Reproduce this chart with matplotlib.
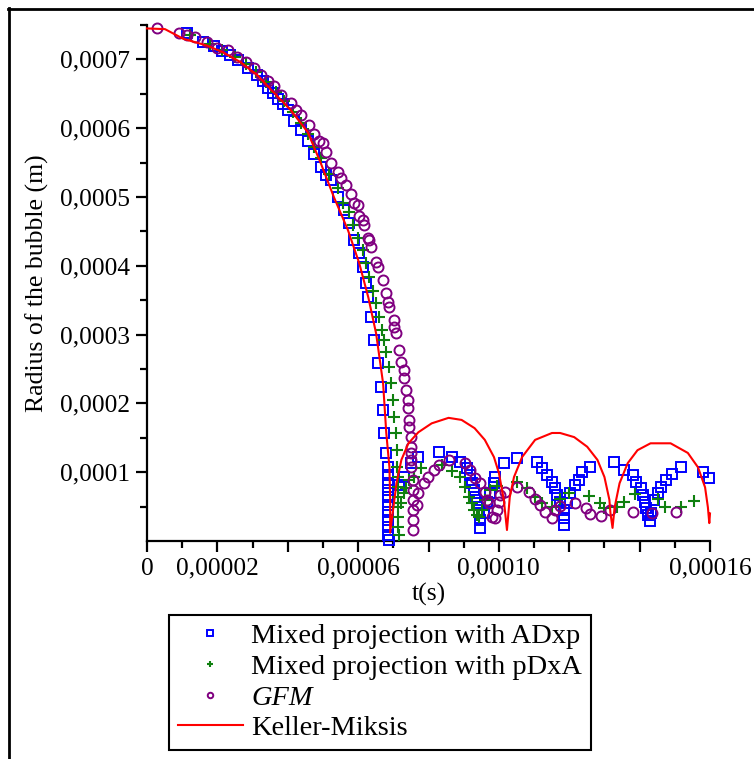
import matplotlib
matplotlib.use("Agg")
import matplotlib.pyplot as plt
from matplotlib.lines import Line2D
from matplotlib.ticker import MultipleLocator, FixedLocator
import numpy as np

plt.rcParams['font.family'] = ['Liberation Serif', 'DejaVu Serif']
plt.rcParams['mathtext.fontset'] = 'stix'

# ---- data (t in microseconds, R in micrometres) ----
km_t = [0, 5.1, 10.3, 17.1, 21.7, 26.6, 31.4, 36.0, 40.9, 45.7, 49.4, 53.1, 57.1, 60.3, 62.9,
        65.1, 67.1, 68.0, 68.9, 69.1, 69.1, 70.9, 72.3, 74.3, 77.1, 80.9, 85.7, 89.4, 93.1,
        96.0, 98.6, 100.0, 100.9, 101.4, 102.3, 103.1, 104.3, 106.6, 110.3, 115.1, 117.4,
        121.4, 125.1, 128.0, 130.0, 131.4, 131.7, 132.3, 132.9, 134.3, 136.6, 139.4, 143.1,
        148.8, 153.7, 156.6, 158.6, 159.4, 159.8, 160.0]
km_R = [745, 744, 730, 720, 710, 696, 677, 652, 626, 594, 549, 500, 452, 404, 354,
        302, 229, 157, 107, 60, 12, 84, 118, 142, 158, 171, 179, 176, 164,
        147, 122, 99, 74, 60, 16, 64, 93, 122, 147, 157, 157,
        151, 137, 118, 93, 60, 41, 19, 49, 84, 113, 132, 142,
        142, 128, 107, 78, 49, 26, 40]

adxp_t = [11.4, 16.0, 18.9, 21.4, 23.7, 26.0, 28.6, 31.4, 32.9, 34.3, 35.7, 37.1, 38.6, 40.0,
          41.7, 43.7, 45.7, 47.4, 49.4, 50.9, 52.3, 54.3, 56.0, 57.4, 58.9, 60.3, 61.4, 62.3,
          62.9, 63.7, 64.6, 65.7, 66.6, 67.1, 67.4, 68.0, 68.6, 68.6, 68.6, 68.6, 68.6, 68.6,
          68.6, 68.6, 68.6, 68.6, 68.9,
          71.7, 73.1, 75.1, 77.1, 82.9, 86.6, 88.9, 90.9, 91.7, 92.3, 92.9, 93.1, 93.7, 94.3,
          94.6, 94.6, 95.7, 96.6, 97.4, 98.6, 98.9, 101.4, 105.1, 110.9, 112.3, 113.7, 115.1,
          116.0, 116.6, 117.4, 118.6, 118.6, 118.6, 119.4, 120.3, 121.7, 122.9, 123.7, 126.0,
          132.6, 135.7, 138.0, 138.9, 140.3, 140.9, 141.4, 141.7, 142.3, 142.9, 143.1, 144.0,
          145.1, 146.0, 147.4, 149.1, 151.7, 158.0, 159.7]
adxp_R = [739, 725, 719, 712, 706, 699, 688, 677, 669, 658, 651, 643, 635, 626,
          611, 597, 582, 563, 543, 532, 524, 500, 481, 462, 437, 418, 398, 375,
          354, 325, 292, 258, 224, 190, 157, 128, 107, 96, 84, 74, 64, 52,
          42, 30, 20, 9, 2,
          81, 93, 113, 122, 129, 122, 115, 106, 96, 84, 74, 64, 55, 45,
          30, 19, 41, 57, 70, 84, 93, 113, 121, 115, 106, 96, 86,
          77, 67, 57, 45, 33, 23, 55, 70, 81, 89, 100, 107,
          115, 103, 96, 86, 77, 67, 57, 48, 38, 29, 41, 60,
          70, 78, 89, 97, 107, 100, 91]

pdxa_t = [12.3, 18.0, 21.4, 25.1, 28.0, 30.9, 33.7, 36.6, 38.9, 41.4, 43.7, 45.7, 47.4, 49.4,
          51.7, 54.3, 55.7, 57.4, 58.6, 60.0, 61.4, 62.3, 63.1, 64.3, 65.1, 66.0, 66.9, 67.4,
          68.0, 68.9, 69.4, 70.0, 70.3, 70.9, 71.1, 71.1, 71.4, 71.4, 71.4, 71.4, 71.4, 71.4,
          71.7,
          72.3, 72.9, 73.7, 74.6, 76.0, 78.0, 83.7, 86.6, 88.9, 90.3, 91.4, 92.3, 92.9, 93.7,
          94.3, 95.1, 96.0, 97.4, 99.4, 105.1, 108.0, 110.3, 112.3, 115.1, 117.4, 120.0, 125.7,
          128.6, 130.0, 133.7, 135.7, 138.6, 145.1, 147.1, 151.7, 155.4]
pdxa_R = [735, 723, 713, 703, 693, 681, 667, 652, 640, 623, 608, 592, 572, 556,
          534, 513, 492, 478, 459, 441, 423, 404, 383, 364, 346, 325, 306, 292,
          274, 253, 229, 205, 180, 157, 132, 107, 93, 78, 64, 49, 35, 20,
          9,
          55, 70, 77, 89, 93, 106, 110, 102, 93, 78, 64, 55, 45, 38,
          35, 45, 60, 74, 80, 86, 77, 64, 55, 49, 61, 70, 65,
          55, 48, 49, 57, 68, 61, 49, 49, 58]

gfm_t = [2.9, 9.1, 11.4, 13.7, 17.1, 20.0, 22.9, 25.7, 28.0, 30.3, 32.3, 34.3, 36.0, 38.0,
         40.9, 42.3, 43.7, 46.0, 47.4, 48.9, 50.0, 50.9, 52.3, 54.3, 55.1, 56.6, 58.0, 58.9,
         60.0, 60.3, 61.4, 61.7, 62.9, 63.1, 63.7, 65.1, 65.7, 67.1, 68.0, 68.6, 68.9, 70.3,
         70.3, 70.9, 71.7, 72.3, 72.9, 73.1, 73.7, 74.3, 74.3, 74.6, 74.6, 74.9, 75.1, 75.1,
         75.1, 75.1, 75.7, 75.7, 75.7, 75.7, 75.7, 75.7,
         76.6, 77.1, 78.6, 80.0, 81.7, 83.1, 85.7, 90.3, 91.7, 93.1, 94.6, 96.0, 96.6, 97.1,
         98.0, 98.9, 99.4, 100.0, 100.3, 101.7, 105.1, 108.6, 110.3, 111.7, 113.1, 115.1,
         116.0, 117.4, 121.7, 124.9, 126.0, 129.1, 131.7, 138.0, 143.4, 150.3]
gfm_R = [745, 739, 736, 733, 725, 717, 713, 703, 696, 687, 677, 669, 662, 648,
         636, 626, 619, 604, 592, 582, 578, 565, 550, 536, 527, 517, 505, 491,
         488, 473, 466, 459, 441, 437, 427, 405, 398, 379, 360, 347, 340, 321,
         311, 302, 277, 260, 248, 237, 219, 205, 193, 176, 166, 151, 137, 128,
         118, 107, 89, 74, 60, 45, 30, 16,
         52, 70, 84, 93, 103, 110, 118, 113, 103, 91, 84, 71, 60, 55,
         35, 33, 45, 57, 67, 71, 78, 71, 61, 52, 42, 33,
         45, 51, 55, 48, 39, 36, 45, 42, 41, 42]

labels = ["Mixed projection with ADxp", "Mixed projection with pDxA", "GFM", "Keller-Miksis"]
xtick_vals = [0, 2e-5, 4e-5, 6e-5, 8e-5, 10e-5, 12e-5, 14e-5, 16e-5]
xtick_labels = ["0", "0,00002", "", "0,00006", "", "0,00010", "", "", "0,00016"]
ytick_vals = [1e-4, 2e-4, 3e-4, 4e-4, 5e-4, 6e-4, 7e-4]
ytick_labels = ["0,0001", "0,0002", "0,0003", "0,0004", "0,0005", "0,0006", "0,0007"]

us, um = 1e-6, 1e-6
fig = plt.figure(figsize=(7.54, 7.59), dpi=100)
ax = fig.add_axes([147/754, 1 - 541/759, (710 - 147)/754, (541 - 25)/759])

ax.plot(np.array(adxp_t)*us, np.array(adxp_R)*um, ls='none', marker='s', ms=7.2,
        mfc='none', mec='#0000ff', mew=1.4, label=labels[0], clip_on=False, zorder=3)
ax.plot(np.array(pdxa_t)*us, np.array(pdxa_R)*um, ls='none', marker='+', ms=9,
        mec='#108010', mew=1.5, label=labels[1], clip_on=False, zorder=3)
ax.plot(np.array(gfm_t)*us, np.array(gfm_R)*um, ls='none', marker='o', ms=7.2,
        mfc='none', mec='#800080', mew=1.4, label=labels[2], clip_on=False, zorder=3)
ax.plot(np.array(km_t)*us, np.array(km_R)*um, color='#ff0000', lw=1.5, label=labels[3],
        clip_on=False, zorder=4)

ax.set_xlim(0, 1.6e-4)
ax.set_ylim(0, 7.5e-4)
for s in ['top', 'right']:
    ax.spines[s].set_visible(False)
for s in ['left', 'bottom']:
    ax.spines[s].set_linewidth(1.6)

ax.xaxis.set_major_locator(FixedLocator(xtick_vals))
ax.set_xticklabels(xtick_labels)
ax.xaxis.set_minor_locator(MultipleLocator(1e-5))
ax.yaxis.set_major_locator(FixedLocator(ytick_vals))
ax.set_yticklabels(ytick_labels)
ax.yaxis.set_minor_locator(FixedLocator([0.5e-4, 1.5e-4, 2.5e-4, 3.5e-4, 4.5e-4, 5.5e-4, 6.5e-4, 7.5e-4]))
ax.tick_params(which='major', length=8, width=1.6, labelsize=18.3, direction='out', pad=4)
ax.tick_params(which='minor', length=5, width=1.6, direction='out')

ax.set_xlabel("t(s)", fontsize=18.5, labelpad=2)
ax.set_ylabel("Radius of the bubble (m)", fontsize=18.5, labelpad=8)

handles, _ = ax.get_legend_handles_labels()
leg = fig.legend(handles, labels, loc='upper left', bbox_to_anchor=(169/754, 1 - 615/759),
                 bbox_transform=fig.transFigure, fontsize=20.4, frameon=True, fancybox=False,
                 edgecolor='black', framealpha=1, borderpad=0.3, labelspacing=0.17,
                 handlelength=2.3, handletextpad=0.3, borderaxespad=0, markerscale=0.55)
leg.get_frame().set_linewidth(1.5)
leg.get_texts()[2].set_fontstyle('italic')

# outer frame
fig.add_artist(Line2D([8/754, 1.0], [1 - 8.5/759, 1 - 8.5/759], transform=fig.transFigure,
                      color='black', lw=2))
fig.add_artist(Line2D([8.5/754, 8.5/754], [1 - 8/759, 0.0], transform=fig.transFigure,
                      color='black', lw=2))

fig.savefig("out.png", dpi=100)
